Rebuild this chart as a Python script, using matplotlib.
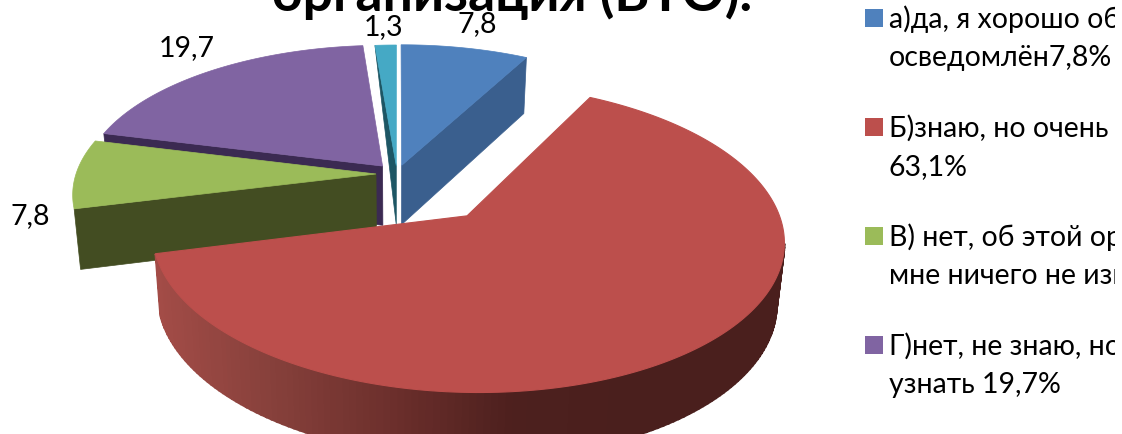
import numpy as np
import matplotlib
matplotlib.use('Agg')
import matplotlib.pyplot as plt
from matplotlib.colors import LinearSegmentedColormap
from matplotlib.patches import Polygon, Rectangle

# Values from the picture (clockwise from 12 o'clock)
slice_values = [7.8, 63.1, 7.8, 19.7, 1.3]
data_labels = ['7,8', None, '7,8', '19,7', '1,3']
title_text = 'организация (ВТО).'
legend_labels = ['а)да, я хорошо об этом\nосведомлён7,8%',
                 'Б)знаю, но очень мало\n63,1%',
                 'В) нет, об этой организации\nмне ничего не известно',
                 'Г)нет, не знаю, но хочу\nузнать 19,7%']

# Styles, one per slice
top_colors = ['#4F81BD', '#BC4F4C', '#9BBB59', '#8064A2', '#45A9C5']
cut_colors = ['#3A5F8E', '#5A2422', '#434D22', '#3B2A52', '#1D5664']
explode = [0.064, 0.365, 0.07, 0.075, 0.06]
label_pos = [(477, 24), None, (30, 216), (187, 48), (384, 27)]
legend_y = [19, 128, 237, 346]

# Projection of the tilted disc to pixels
cx, cy = 397, 174
a, b, k = 300, 139.5, 0.138

plt.rcParams['font.family'] = ['Lato', 'Open Sans', 'DejaVu Sans']


def project(x, y):
    d = 1 + k * y
    return cx + a * x / d, cy - b * y / d


def drop(sx, sy):
    # the lower face of the disc, a bit further from the camera
    return cx + 0.98 * (sx - cx), sy + 56 + 0.03 * (sy - 58)


def slice_outline(start, end, exp):
    mid = (start + end) / 2
    ox, oy = exp * np.sin(mid), exp * np.cos(mid)
    t = np.linspace(start, end, 200)
    return project(ox, oy), project(ox + np.sin(t), oy + np.cos(t))


fig = plt.figure(figsize=(11.22, 4.34), dpi=100)
ax = fig.add_axes([0, 0, 1, 1])
ax.set_xlim(0, 1122)
ax.set_ylim(434, 0)
ax.axis('off')

edges = np.cumsum([0] + slice_values) / np.sum(slice_values) * 2 * np.pi
outlines = [slice_outline(edges[i], edges[i + 1], explode[i]) for i in range(len(slice_values))]

# Cut faces: which end of the arc shows for each slice, back to front
for i, end in [(0, -1), (4, 0), (3, 0), (2, 0)]:
    apex, (ax_x, ax_y) = outlines[i]
    tip = (ax_x[end], ax_y[end])
    if i == 4:
        face = [tip, apex, drop(*apex)]
    else:
        face = [tip, apex, drop(*apex), drop(*tip)]
    ax.add_patch(Polygon(face, closed=True, facecolor=cut_colors[i], edgecolor=cut_colors[i], lw=0.5))
    ax.add_patch(Polygon([apex] + list(zip(ax_x, ax_y)), closed=True, facecolor=top_colors[i],
                         edgecolor=top_colors[i], lw=0.5))

# Red slice last: shaded rim (front part of the arc only), then its top
red_cmap = LinearSegmentedColormap.from_list('rim', ['#A34C47', '#86403B', '#6C2F2C', '#4D201E', '#4A1F1D'])
apex, (rx, ry) = outlines[1]
bx, by = drop(rx, ry)
for j in range(np.argmax(rx), len(rx) - 1):
    col = red_cmap(np.clip((rx[j] - 155) / 480, 0, 1))
    ax.add_patch(Polygon([(rx[j], ry[j]), (rx[j + 1], ry[j + 1]), (bx[j + 1], by[j + 1]), (bx[j], by[j])],
                         closed=True, facecolor=col, edgecolor=col, lw=1.5))
ax.add_patch(Polygon([apex] + list(zip(rx, ry)), closed=True, facecolor=top_colors[1],
                     edgecolor=top_colors[1], lw=0.8))

for lab, pos in zip(data_labels, label_pos):
    if lab is not None:
        ax.text(pos[0], pos[1], lab, fontsize=20.5, ha='center', va='center', color='black')

ax.text(512, 11, title_text, fontsize=38.5, fontweight='bold', ha='center', va='baseline', color='black')

# Legend, cut off on the right as in the picture
clip = Rectangle((0, 0), 1115, 434, transform=ax.transData)
for i, lab in enumerate(legend_labels):
    y = legend_y[i]
    ax.add_patch(Rectangle((865, y - 10), 18, 18, facecolor=top_colors[i], edgecolor='none'))
    for n, line in enumerate(lab.split('\n')):
        t = ax.text(889, y + n * 39, line, fontsize=20.5, ha='left', va='center', color='black', clip_on=True)
        t.set_clip_path(clip)

fig.savefig('out.png', dpi=100)
